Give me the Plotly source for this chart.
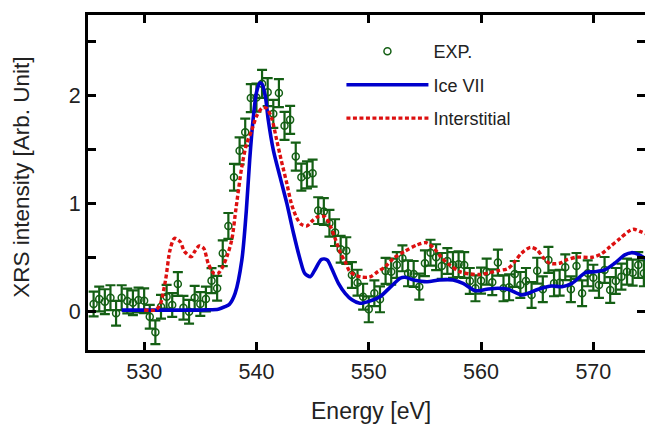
import plotly.graph_objects as go

# ---------------- data ----------------
exp_energy = [525.5, 526.0, 526.5, 527.0, 527.5, 528.0, 528.5, 529.0, 529.5, 530.0,
              530.5, 531.0, 531.5, 532.0, 532.5, 533.0, 533.5, 534.0, 534.5, 535.0,
              535.5, 536.0, 536.5, 537.0, 537.5, 538.0, 538.5, 539.0, 539.5, 540.0,
              540.5, 541.0, 541.5, 542.0, 542.5, 543.0, 543.5, 544.0, 544.5, 545.0,
              545.5, 546.0, 546.5, 547.0, 547.5, 548.0, 548.5, 549.0, 549.5, 550.0,
              550.5, 551.0, 551.5, 552.0, 552.5, 553.0, 553.5, 554.0, 554.5, 555.0,
              555.5, 556.0, 556.5, 557.0, 557.5, 558.0, 558.5, 559.0, 559.5, 560.0,
              560.5, 561.0, 561.5, 562.0, 562.5, 563.0, 563.5, 564.0, 564.5, 565.0,
              565.5, 566.0, 566.5, 567.0, 567.5, 568.0, 568.5, 569.0, 569.5, 570.0,
              570.5, 571.0, 571.5, 572.0, 572.5, 573.0, 573.5, 574.0, 574.5]
exp_intensity = [0.071, 0.118, 0.093, 0.130, -0.015, 0.130, 0.099, 0.083, 0.109, 0.102,
                 -0.046, -0.191, 0.046, 0.139, 0.062, 0.257, 0.037, 0.000, 0.130, 0.071,
                 0.118, 0.288, 0.217, 0.542, 0.795, 1.247, 1.491, 1.664, 1.980, 1.985,
                 2.112, 2.035, 1.834, 2.026, 1.723, 1.778, 1.438, 1.247, 1.268, 1.284,
                 0.937, 0.928, 0.820, 0.733, 0.579, 0.566, 0.340, 0.269, 0.139, 0.022,
                 0.171, 0.115, 0.378, 0.371, 0.433, 0.495, 0.356, 0.350, 0.232, 0.449,
                 0.547, 0.505, 0.424, 0.470, 0.433, 0.440, 0.433, 0.285, 0.217, 0.288,
                 0.371, 0.273, 0.455, 0.217, 0.226, 0.350, 0.248, 0.285, 0.155, 0.380,
                 0.208, 0.480, 0.263, 0.269, 0.412, 0.208, 0.424, 0.171, 0.356, 0.315,
                 0.248, 0.387, 0.201, 0.285, 0.325, 0.371, 0.362, 0.433, 0.356]
exp_error = [0.115, 0.115, 0.115, 0.115, 0.115, 0.115, 0.115, 0.115, 0.115, 0.115,
             0.110, 0.110, 0.110, 0.110, 0.110, 0.110, 0.110, 0.110, 0.110, 0.110,
             0.115, 0.115, 0.115, 0.120, 0.120, 0.124, 0.125, 0.126, 0.130, 0.130,
             0.130, 0.130, 0.130, 0.130, 0.130, 0.130, 0.130, 0.125, 0.125, 0.125,
             0.124, 0.124, 0.124, 0.124, 0.124, 0.124, 0.120, 0.120, 0.120, 0.120,
             0.120, 0.120, 0.120, 0.120, 0.120, 0.120, 0.120, 0.120, 0.120, 0.120,
             0.120, 0.120, 0.120, 0.120, 0.120, 0.120, 0.120, 0.120, 0.120, 0.120,
             0.120, 0.120, 0.120, 0.120, 0.120, 0.120, 0.120, 0.120, 0.120, 0.120,
             0.120, 0.120, 0.120, 0.120, 0.120, 0.120, 0.120, 0.120, 0.120, 0.120,
             0.120, 0.120, 0.120, 0.120, 0.120, 0.120, 0.120, 0.120, 0.120]

ice_energy = [528.0, 530.0, 532.0, 534.0, 535.5, 536.6, 537.2, 537.6, 538.1, 538.7,
              539.1, 539.4, 539.7, 540.0, 540.3, 540.5, 540.8, 541.05, 541.5, 542.1,
              542.7, 543.3, 543.9, 544.3, 544.8, 545.2, 545.8, 546.3, 546.7, 547.3,
              547.9, 548.5, 549.2, 550.1, 551.0, 551.9, 552.8, 553.2, 554.0, 555.2,
              556.3, 557.5, 558.4, 559.5, 560.5, 561.5, 562.4, 563.6, 564.2, 565.1,
              566.3, 567.2, 568.1, 569.3, 570.1, 571.0, 571.9, 572.8, 573.4, 574.0,
              574.6, 575.0]
ice_intensity = [0.015, 0.015, 0.015, 0.015, 0.017, 0.022, 0.046, 0.070, 0.170, 0.480,
                 0.940, 1.410, 1.780, 2.030, 2.120, 2.110, 1.990, 1.780, 1.500, 1.250,
                 1.006, 0.727, 0.480, 0.356, 0.325, 0.387, 0.486, 0.480, 0.400, 0.263,
                 0.170, 0.110, 0.078, 0.099, 0.139, 0.226, 0.310, 0.319, 0.294, 0.278,
                 0.294, 0.294, 0.263, 0.195, 0.208, 0.217, 0.208, 0.155, 0.171, 0.208,
                 0.238, 0.232, 0.263, 0.362, 0.371, 0.387, 0.449, 0.526, 0.547, 0.532,
                 0.495, 0.470]

int_energy = [530.0, 531.0, 531.4, 531.9, 532.3, 532.7, 533.2, 533.6, 534.2, 534.5,
              534.9, 535.3, 535.7, 536.2, 536.6, 537.0, 537.4, 537.8, 538.2, 538.7,
              539.1, 539.6, 540.0, 540.5, 540.9, 541.35, 541.8, 542.2, 542.7, 543.1,
              543.6, 544.0, 544.5, 544.9, 545.5, 546.1, 546.6, 547.0, 547.5, 547.9,
              548.3, 548.9, 549.4, 550.1, 550.8, 551.5, 552.2, 553.2, 554.3, 555.1,
              555.8, 556.5, 557.2, 558.1, 559.0, 559.9, 560.8, 561.5, 562.4, 563.0,
              563.6, 564.4, 565.0, 565.5, 566.1, 567.0, 567.6, 568.5, 569.9, 570.7,
              571.5, 572.4, 573.1, 573.6, 574.2, 575.0]
int_intensity = [0.016, 0.016, 0.060, 0.290, 0.570, 0.680, 0.650, 0.557, 0.510, 0.557,
                 0.610, 0.588, 0.449, 0.356, 0.356, 0.417, 0.520, 0.665, 0.974, 1.345,
                 1.546, 1.686, 1.810, 1.887, 1.887, 1.794, 1.593, 1.407, 1.191, 1.006,
                 0.866, 0.810, 0.795, 0.835, 0.881, 0.881, 0.790, 0.680, 0.540, 0.464,
                 0.375, 0.335, 0.320, 0.322, 0.370, 0.420, 0.495, 0.560, 0.619, 0.640,
                 0.590, 0.500, 0.433, 0.371, 0.350, 0.345, 0.362, 0.380, 0.400, 0.464,
                 0.542, 0.597, 0.572, 0.505, 0.449, 0.449, 0.480, 0.505, 0.505, 0.535,
                 0.603, 0.681, 0.742, 0.764, 0.742, 0.710]

y_tickvals = [0, 0.5, 1, 1.5, 2, 2.5]
y_ticktext = ["0", "", "1", "", "2", ""]
x_tickvals = [530, 540, 550, 560, 570]
x_title = "Energy [eV]"
y_title = "XRS intensity [Arb. Unit]"

GREEN = "#145f14"
BLUE = "#0000cc"
RED = "#dd1010"
FONT = "Liberation Sans, Arial, sans-serif"

fig = go.Figure()

fig.add_trace(go.Scatter(
    x=exp_energy, y=exp_intensity, mode="markers", name="EXP.",
    legendgroup="a",
    marker=dict(symbol="circle-open", size=7, color=GREEN, line=dict(width=1.5, color=GREEN)),
    error_y=dict(type="data", array=exp_error, visible=True, color=GREEN,
                 thickness=2.2, width=5),
))
fig.add_trace(go.Scatter(
    x=ice_energy, y=ice_intensity, mode="lines", name="Ice VII",
    legendgroup="b",
    line=dict(color=BLUE, width=3.6, shape="spline", smoothing=0.8),
))
fig.add_trace(go.Scatter(
    x=int_energy, y=int_intensity, mode="lines", name="Interstitial",
    legendgroup="c",
    line=dict(color=RED, width=3.4, dash="4px,2.5px", shape="spline", smoothing=0.8),
))
# empty trace that activates the right-hand mirrored tick axis
fig.add_trace(go.Scatter(x=[None], y=[None], yaxis="y2", showlegend=False, hoverinfo="skip"))

fig.update_layout(
    width=645, height=424,
    margin=dict(l=88, r=0, t=15, b=74, autoexpand=False),
    paper_bgcolor="white", plot_bgcolor="white",
    font=dict(family=FONT, size=22, color="#222"),
    showlegend=True,
    legend=dict(x=0.455, y=0.946, xanchor="left", yanchor="top",
                bgcolor="rgba(0,0,0,0)", font=dict(size=18, color="#222"),
                itemwidth=82, tracegroupgap=7),
    xaxis=dict(range=[525, 574.6], tickvals=x_tickvals, ticks="inside", ticklen=8,
               tickwidth=2.5, tickcolor="black", showline=True, linewidth=3,
               linecolor="black", mirror="ticks", showgrid=False, zeroline=False,
               automargin=False, tickfont=dict(size=21.5, color="#222")),
    yaxis=dict(range=[-0.355, 2.75], tickvals=y_tickvals, ticktext=y_ticktext,
               ticks="inside", ticklen=8, tickwidth=2.5, tickcolor="black",
               showline=True, linewidth=3, linecolor="black", mirror=False,
               showgrid=False, zeroline=False, automargin=False,
               tickfont=dict(size=21.5, color="#222")),
    yaxis2=dict(range=[-0.355, 2.75], overlaying="y", side="right", anchor="x",
                tickvals=y_tickvals, ticks="inside", ticklen=8, tickwidth=2.5,
                tickcolor="black", showticklabels=False, showline=False,
                showgrid=False, zeroline=False, automargin=False),
    annotations=[
        dict(text=x_title, xref="paper", yref="paper", x=0.508, y=-0.182,
             xanchor="center", yanchor="middle", showarrow=False,
             font=dict(size=23, color="#222")),
        dict(text=y_title, xref="paper", yref="paper", x=-0.1185, y=0.517,
             xanchor="center", yanchor="middle", textangle=-90, showarrow=False,
             font=dict(size=22.5, color="#222")),
    ],
)

fig.write_html(
    "out.html",
    config={"displayModeBar": False},
    post_script="document.body.style.margin='0';document.body.style.overflow='hidden';",
)
